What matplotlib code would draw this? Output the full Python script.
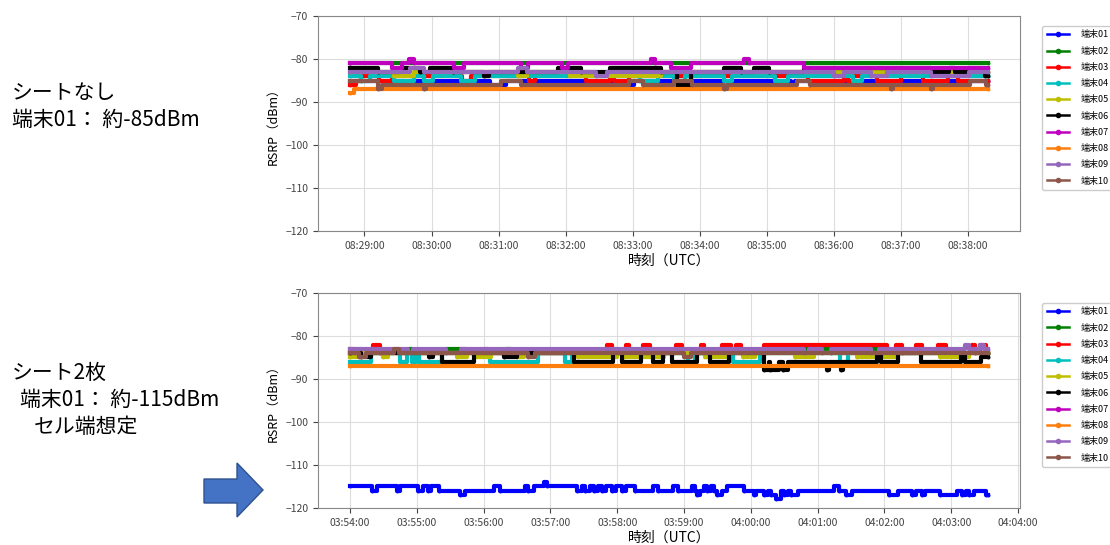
import numpy as np
import matplotlib
matplotlib.use('Agg')
import matplotlib.pyplot as plt
import matplotlib.dates as mdates
from matplotlib.lines import Line2D
from matplotlib.patches import Polygon

plt.rcParams['font.family'] = ['Noto Sans CJK JP', 'DejaVu Sans']

### data: (seconds from start, RSRP dBm) at each change point
top_start = '2023-01-01T08:28:47'
bot_start = '2023-01-01T03:54:00'

names = ['端末01', '端末02', '端末03', '端末04', '端末05',
         '端末06', '端末07', '端末08', '端末09', '端末10']
colors = ['b', 'g', 'r', 'c', 'y', 'k', 'm', 'tab:orange', 'tab:purple', 'tab:brown']

# without sheet
top_01 = [(0, -85), (50, -86), (53, -85), (125, -86), (140, -85), (250, -86), (254, -85),
          (395, -86), (398, -85), (571, -85)]
top_02 = [(0, -81), (571, -81)]
top_03 = [(0, -86), (5, -85), (10, -84), (26, -85), (38, -84), (100, -85), (108, -84),
          (160, -85), (166, -84), (211, -85), (233, -84), (236, -85), (250, -84), (410, -85),
          (442, -84), (446, -85), (450, -84), (472, -85), (493, -84), (513, -85), (535, -84),
          (544, -85), (571, -85)]
top_04 = [(0, -84), (10, -85), (18, -84), (39, -85), (57, -84), (66, -85), (74, -84),
          (99, -85), (112, -84), (260, -85), (276, -84), (290, -85), (300, -84), (335, -85),
          (342, -84), (380, -85), (392, -84), (450, -85), (458, -84), (571, -84)]
top_05 = [(0, -83), (39, -84), (57, -83), (150, -84), (158, -83), (197, -84), (278, -83),
          (571, -83)]
top_06 = [(0, -82), (25, -83), (45, -82), (63, -83), (72, -82), (92, -83), (120, -84),
          (124, -83), (186, -82), (207, -83), (233, -82), (278, -83), (293, -86), (305, -83),
          (335, -82), (350, -83), (362, -82), (375, -83), (406, -82), (520, -83), (536, -82),
          (541, -83), (554, -82), (568, -84), (571, -84)]
top_07 = [(0, -81), (38, -82), (47, -81), (53, -80), (57, -81), (93, -82), (102, -81),
          (153, -82), (159, -81), (190, -82), (195, -81), (269, -80), (273, -81), (287, -82),
          (305, -81), (353, -80), (357, -81), (406, -82), (571, -82)]
top_08 = [(0, -88), (4, -87), (571, -87)]
top_09 = [(0, -83), (54, -82), (66, -83), (150, -82), (158, -83), (220, -84), (230, -83),
          (433, -84), (442, -83), (466, -84), (481, -83), (520, -84), (554, -83), (571, -83)]
top_10 = [(0, -85), (25, -87), (29, -86), (66, -87), (68, -86), (135, -85), (153, -86),
          (250, -85), (262, -86), (290, -85), (306, -86), (335, -87), (337, -86), (400, -85),
          (412, -86), (484, -87), (486, -86), (520, -87), (522, -86), (555, -85), (569, -86),
          (571, -86)]

# two sheets
bot_01 = [(0, -115), (20, -116), (24, -115), (42, -116), (45, -115), (61, -116), (66, -115),
          (70, -116), (73, -115), (80, -116), (99, -117), (103, -116), (129, -115), (135, -116),
          (157, -115), (160, -116), (165, -115), (174, -114), (177, -115), (204, -116),
          (208, -115), (211, -116), (216, -115), (219, -116), (223, -115), (226, -116),
          (230, -115), (235, -116), (239, -115), (244, -116), (248, -115), (256, -116),
          (272, -115), (277, -116), (290, -115), (295, -116), (307, -115), (310, -116),
          (312, -117), (314, -116), (318, -115), (321, -116), (324, -115), (327, -116),
          (330, -117), (334, -116), (339, -115), (354, -116), (363, -117), (365, -116),
          (372, -117), (375, -116), (378, -117), (383, -118), (387, -116), (390, -117),
          (393, -116), (396, -117), (402, -116), (435, -115), (439, -116), (445, -117),
          (451, -116), (484, -117), (492, -116), (505, -117), (508, -116), (514, -117),
          (516, -116), (530, -117), (545, -116), (550, -117), (553, -116), (556, -117),
          (560, -116), (571, -117), (573, -117)]
bot_02 = [(0, -84), (52, -83), (57, -84), (86, -83), (100, -84), (140, -83), (145, -84),
          (408, -83), (412, -84), (424, -83), (432, -84), (468, -83), (475, -84), (573, -84)]
bot_03 = [(0, -83), (5, -84), (21, -82), (27, -84), (100, -83), (104, -84), (120, -83),
          (124, -84), (231, -82), (235, -84), (248, -82), (251, -84), (263, -82), (269, -84),
          (293, -82), (298, -84), (315, -82), (318, -84), (334, -82), (342, -84), (347, -82),
          (351, -84), (372, -82), (482, -84), (490, -82), (496, -84), (508, -82), (514, -84),
          (528, -82), (535, -84), (559, -82), (561, -84), (566, -82), (571, -84), (573, -84)]
bot_04 = [(0, -86), (19, -84), (45, -86), (51, -84), (56, -86), (59, -84), (62, -86),
          (83, -84), (126, -86), (169, -84), (193, -86), (199, -84), (304, -86), (310, -84),
          (344, -86), (368, -84), (440, -86), (447, -84), (573, -84)]
bot_05 = [(0, -85), (6, -84), (30, -85), (34, -84), (96, -85), (105, -84), (112, -85),
          (127, -84), (150, -85), (156, -84), (205, -85), (240, -84), (246, -85), (282, -84),
          (319, -85), (340, -84), (353, -85), (364, -84), (400, -85), (417, -84), (455, -85),
          (492, -84), (530, -85), (556, -84), (573, -84)]
bot_06 = [(0, -84), (10, -85), (19, -84), (71, -85), (75, -84), (83, -86), (111, -84),
          (138, -85), (150, -84), (201, -86), (236, -84), (244, -86), (261, -84), (272, -86),
          (281, -84), (289, -86), (312, -84), (323, -86), (340, -84), (372, -88), (376, -86),
          (377, -88), (385, -86), (389, -88), (393, -86), (428, -88), (430, -86), (441, -88),
          (443, -86), (473, -84), (477, -86), (492, -84), (513, -86), (549, -84), (552, -86),
          (567, -85), (573, -85)]
bot_07 = []
bot_08 = [(0, -87), (573, -87)]
bot_09 = [(0, -83), (52, -84), (57, -83), (86, -84), (100, -83), (408, -84), (412, -83),
          (424, -84), (432, -83), (468, -84), (475, -83), (552, -82), (556, -83), (566, -82),
          (569, -83), (573, -83)]
bot_10 = [(0, -84), (8, -85), (14, -84), (40, -83), (44, -84), (160, -85), (166, -84),
          (300, -85), (306, -84), (573, -84)]

top_series = [top_01, top_02, top_03, top_04, top_05, top_06, top_07, top_08, top_09, top_10]
bot_series = [bot_01, bot_02, bot_03, bot_04, bot_05, bot_06, bot_07, bot_08, bot_09, bot_10]


def draw(ax, start, series):
    t0 = np.datetime64(start)
    for pts, c in zip(series, colors):
        secs = np.array([p[0] for p in pts], dtype='int64')
        vals = [p[1] for p in pts]
        ax.plot(t0 + secs.astype('timedelta64[s]'), vals, color=c, lw=3,
                drawstyle='steps-post', marker='o', ms=2.8, mew=0)
    ax.set_ylim(-120, -70)
    ax.set_yticks(range(-120, -69, 10))
    ax.xaxis.set_major_locator(mdates.MinuteLocator())
    ax.xaxis.set_major_formatter(mdates.DateFormatter('%H:%M:%S'))
    ax.tick_params(labelsize=7.5, colors='#444444', labelcolor='#444444')
    for sp in ax.spines.values():
        sp.set_color('#888888')
    ax.grid(True, color='#dddddd', lw=0.8)
    ax.set_ylabel('RSRP（dBm）', fontsize=9)
    ax.set_xlabel('時刻（UTC）', fontsize=10, labelpad=2)
    handles = [Line2D([], [], color=c, lw=1.8, marker='o', ms=3) for c in colors]
    ax.legend(handles, names, loc='upper left', bbox_to_anchor=(1.025, 0.975),
              fontsize=6.5, handlelength=2.5, handletextpad=1.3, labelspacing=0.8,
              borderpad=0.5, framealpha=1, edgecolor='#cccccc')


fig = plt.figure(figsize=(11.1, 5.45), dpi=100)
ax1 = fig.add_axes([0.2865, 0.5761, 0.6324, 0.3945])
ax2 = fig.add_axes([0.2865, 0.0679, 0.6324, 0.3945])
draw(ax1, top_start, top_series)
draw(ax2, bot_start, bot_series)

fig.text(0.011, 0.829, 'シートなし', fontsize=15, va='center')
fig.text(0.011, 0.78, '端末01： 約-85dBm', fontsize=15, va='center')
fig.text(0.011, 0.316, 'シート2枚', fontsize=15, va='center')
fig.text(0.018, 0.266, '端末01： 約-115dBm', fontsize=15, va='center')
fig.text(0.030, 0.217, 'セル端想定', fontsize=15, va='center')

# block arrow pointing at the low terminal
arrow_px = [(204, 479), (237, 479), (237, 463), (263, 490), (237, 517), (237, 503), (204, 503)]
arrow = Polygon([(x / 1110, 1 - y / 545) for x, y in arrow_px], closed=True,
                transform=fig.transFigure, facecolor='#4472C4', edgecolor='#2F528F', lw=1)
fig.add_artist(arrow)

fig.savefig('out.png', dpi=100)
